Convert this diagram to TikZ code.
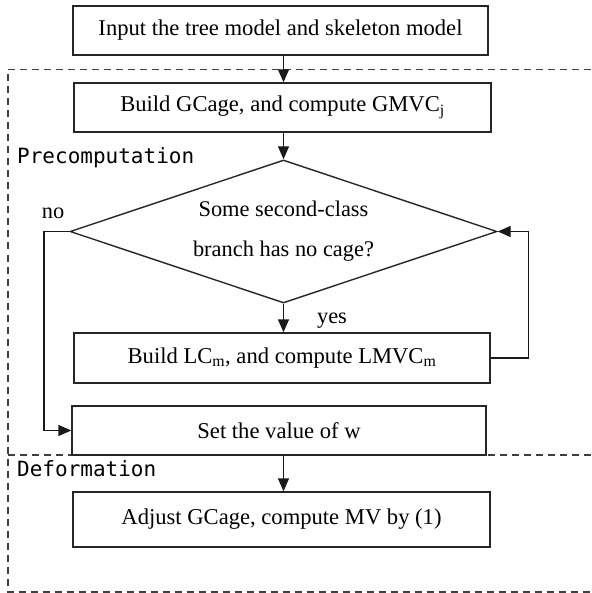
\documentclass[tikz,border=0pt]{standalone}
\usepackage{fontspec}
\setmainfont{Liberation Serif}
\newfontfamily\labelmono{DejaVu Sans Mono}
\usetikzlibrary{arrows.meta,shapes.geometric}

\tikzset{
  stepbox/.style={draw=black!85, line width=1.4pt, rectangle, inner sep=0pt,
                  minimum height=49pt, font=\fontsize{22.6}{26}\selectfont},
  decision/.style={draw=black!85, line width=1.4pt, diamond, aspect=2.986, inner sep=0pt,
                   minimum width=427pt, minimum height=143pt, align=center,
                   font=\fontsize{22.4}{40}\selectfont},
  flow/.style={line width=1.4pt, draw=black!90, -{Triangle[length=13pt,width=11pt]}},
  region/.style={line width=1.6pt, draw=black!75, dash pattern=on 7pt off 5pt},
  phase/.style={anchor=west, inner sep=0pt, font=\labelmono\fontsize{21}{24}\selectfont},
  tag/.style={inner sep=0pt, font=\fontsize{22.4}{26}\selectfont}
}

\begin{document}
\begin{tikzpicture}[x=1pt, y=-1pt]
  \useasboundingbox (0,0) rectangle (591,593);

  % phase regions
  \draw[region] (591,69.5) -- (8,69.5) -- (8,592) -- (591,592);
  \draw[region] (8,455) -- (591,455);
  \node[phase] (pre) at (17,158) {Precomputation};
  \node[phase] (def) at (17,469) {Deformation};

  % steps
  \node[stepbox, minimum width=415pt] (input) at (280.5,30.5)
    {Input the tree model and skeleton model};
  \node[stepbox, minimum width=417pt] (gcage) at (282.5,107.5)
    {Build GCage, and compute GMVC\textsubscript{j}};
  \node[decision] (check) at (283.5,231.5)
    {Some second-class\\branch has no cage?};
  \node[stepbox, minimum width=416pt, minimum height=50pt] (lcage) at (282,358)
    {Build LC\textsubscript{m}, and compute LMVC\textsubscript{m}};
  \node[stepbox, minimum width=414pt] (weight) at (279,430.5)
    {Set the value of w};
  \node[stepbox, minimum width=417pt, minimum height=55pt] (adjust) at (281.5,519.5)
    {Adjust GCage, compute MV by (1)};

  % connectors
  \draw[flow] (input.south -| check.north) -- (check.north |- gcage.north);
  \draw[flow] (gcage.south -| check.north) -- (check.north);
  \draw[flow] (check.south) -- (check.south |- lcage.north);
  \draw[flow] (lcage.east) -- ++(38,0) |- (check.east);
  \draw[flow] (check.west) -- ++(-25.5,0) |- (weight.west);
  \draw[flow] (weight.south -| check.south) -- (check.south |- adjust.north);

  % branch labels
  \node[tag] (no) at (53,213) {no};
  \node[tag] (yes) at (332,321) {yes};
\end{tikzpicture}
\end{document}
